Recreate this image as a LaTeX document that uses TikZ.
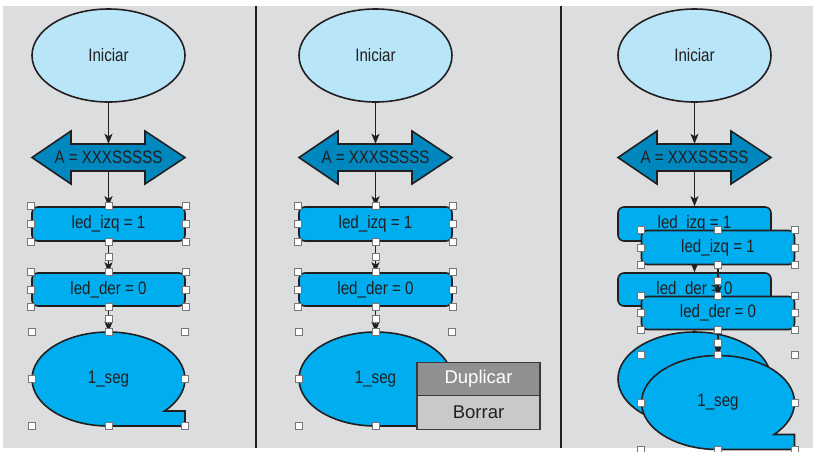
\documentclass[tikz,border=0pt]{standalone}
\usepackage{fontspec}
\setmainfont{Liberation Sans}[FakeStretch=0.84]
\newfontfamily\menufont{Liberation Sans}
\usetikzlibrary{arrows.meta,shapes.geometric,calc}
\definecolor{bg}{HTML}{DCDDDF}
\definecolor{lightblue}{HTML}{B9E5F9}
\definecolor{darkblue}{HTML}{0087BD}
\definecolor{cyanfill}{HTML}{00AEEF}
\definecolor{ink}{HTML}{231F20}
\definecolor{menudark}{HTML}{8F9092}
\definecolor{menulight}{HTML}{C8C9CB}
\definecolor{menuedge}{HTML}{3A3A3A}
\definecolor{hgray}{HTML}{777777}
\tikzset{
  every node/.style={font=\fontsize{18}{21}\selectfont, text=ink},
  outline/.style={draw=ink, line width=1.6pt},
  startshape/.style={ellipse, outline, fill=lightblue, minimum width=153pt, minimum height=93pt, inner sep=0pt},
  procbox/.style={rectangle, rounded corners=6pt, outline, fill=cyanfill, minimum width=153pt, minimum height=34pt, inner sep=0pt},
  ghost/.style={inner sep=0pt},
  conn/.style={draw=ink, line width=1.6pt, -{Stealth[length=10pt,width=8pt,inset=2.5pt]}},
  hs/.style={draw=hgray, fill=white, line width=1pt},
  menuitem/.style={rectangle, draw=menuedge, line width=1.4pt, minimum width=123pt, minimum height=33.5pt, inner sep=0pt, font=\menufont\fontsize{18.5}{21}\selectfont},
  divider/.style={draw=ink, line width=2.4pt}
}
\newcommand\toppart[2]{%
  \begin{scope}[shift={(#2,0)}]
    \node[startshape] (#1ini) at (108.5,55.5) {Iniciar};
    \draw[outline, fill=darkblue] (32,157.5) -- (71,131) -- (71,144) -- (145,144) -- (145,131) -- (185,157.5) -- (145,184) -- (145,171) -- (71,171) -- (71,184) -- cycle;
    \node[ghost, minimum width=74pt, minimum height=27pt] (#1asg) at (108.5,157.5) {A = XXXSSSSS};
    \draw[conn] (#1ini) -- (#1asg);
  \end{scope}}
\newcommand\lowpart[3]{%
  \begin{scope}[shift={(#2,#3)}]
    \node[procbox] (#1izq) at (108.5,224) {led\_izq = 1};
    \node[procbox, minimum height=33pt] (#1der) at (108.5,289.5) {led\_der = 0};
    \draw[outline, fill=cyanfill] (108.5,426) arc[start angle=270, end angle=-42.9, x radius=76.5pt, y radius=47pt] -- (185,411) -- (185,426) -- cycle;
    \node[ghost, minimum width=153pt, minimum height=94pt] (#1seg) at (108.5,379) {1\_seg};
    \draw[conn] (#1izq) -- (#1der);
    \draw[conn] (#1der) -- (#1seg);
  \end{scope}}
\newcommand\handleset[1]{%
  \foreach \a in {north west,north,north east,west,east,south west,south,south east}{%
    \draw[hs] (#1.\a) ++(-3.5,-3.5) rectangle ++(7,7);}}
\newcommand\midhandle[2]{%
  \draw[hs] ($(#1.south)!0.5!(#2.north)$) ++(-3.5,-3.5) rectangle ++(7,7);}
\newcommand\allhandles[1]{%
  \handleset{#1izq}\handleset{#1der}\handleset{#1seg}%
  \midhandle{#1izq}{#1der}\midhandle{#1der}{#1seg}}
\begin{document}
\begin{tikzpicture}[x=1pt, y=-1pt]
  \useasboundingbox (0,0) rectangle (813,451);
  \fill[white] (0,0) rectangle (813,451);
  \fill[bg] (3,6) rectangle (813,448);
  \draw[divider] (256,6) -- (256,448);
  \draw[divider] (561,6) -- (561,448);
  % panel 1
  \toppart{a}{0}
  \lowpart{a}{0}{0}
  \draw[conn] (aasg) -- (aizq);
  \allhandles{a}
  % panel 2
  \toppart{b}{267}
  \lowpart{b}{267}{0}
  \draw[conn] (basg) -- (bizq);
  \allhandles{b}
  \node[menuitem, fill=menudark, text=white] (bdup) at (478.5,379) {Duplicar};
  \node[menuitem, fill=menulight] (bbor) at (478.5,412.5) {Borrar};
  % panel 3
  \toppart{c}{586}
  \lowpart{c}{586}{0}
  \draw[conn] (casg) -- (cizq);
  \lowpart{d}{609.5}{23.5}
  \allhandles{d}
\end{tikzpicture}
\end{document}
